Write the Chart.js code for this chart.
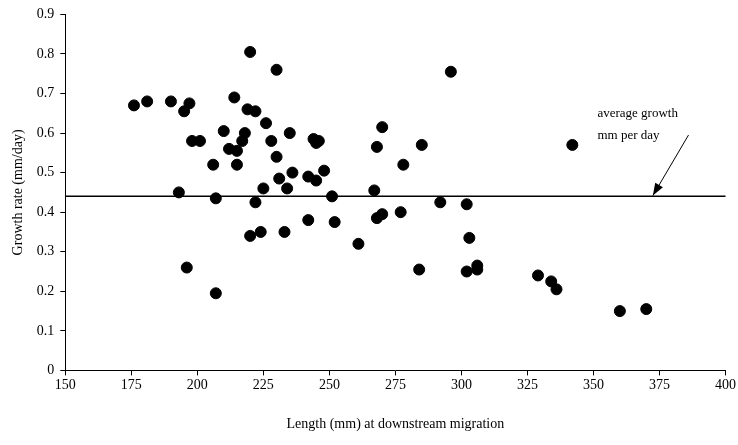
<!DOCTYPE html>
<html><head>
<script src="https://cdn.jsdelivr.net/npm/chart.js@4/dist/chart.umd.min.js"></script>
<style>body{margin:0;background:#fff}#w{width:738px;height:445px}</style>
</head><body><div id="w"><canvas id="c"></canvas></div>
<script>
const lengths = [176,181,190,193,195,196,197,198,201,206,207,207,210,212,214,215,215,217,218,219,220,220,222,222,224,225,226,228,230,230,231,233,234,235,236,242,242,244,245,245,246,248,251,252,261,267,268,268,270,270,277,278,284,285,292,296,302,302,303,306,306,329,334,336,342,360,370];
const rates = [0.67,0.68,0.68,0.45,0.655,0.26,0.675,0.58,0.58,0.52,0.435,0.195,0.605,0.56,0.69,0.555,0.52,0.58,0.6,0.66,0.34,0.805,0.655,0.425,0.35,0.46,0.625,0.58,0.54,0.76,0.485,0.35,0.46,0.6,0.5,0.49,0.38,0.585,0.48,0.575,0.58,0.505,0.44,0.375,0.32,0.455,0.385,0.565,0.395,0.615,0.4,0.52,0.255,0.57,0.425,0.755,0.25,0.42,0.335,0.255,0.265,0.24,0.225,0.205,0.57,0.15,0.155];
const averageRate = 0.44;
const xTicks = [150,175,200,225,250,275,300,325,350,375,400];

const points = lengths.map((x, i) => ({ x, y: rates[i] }));

const annotate = {
  id: 'annotate',
  afterDatasetsDraw(chart) {
    const { ctx, scales: { x, y }, chartArea } = chart;
    ctx.save();
    // average line
    ctx.strokeStyle = '#000'; ctx.lineWidth = 1.5;
    ctx.beginPath();
    ctx.moveTo(chartArea.left, y.getPixelForValue(averageRate));
    ctx.lineTo(chartArea.right, y.getPixelForValue(averageRate));
    ctx.stroke();
    // label + arrow
    ctx.fillStyle = '#000';
    ctx.font = '13px "Liberation Serif"';
    ctx.fillText('average growth', x.getPixelForValue(351.5), y.getPixelForValue(0.64));
    ctx.fillText('mm per day', x.getPixelForValue(351.5), y.getPixelForValue(0.585));
    const x0 = x.getPixelForValue(386), y0 = y.getPixelForValue(0.595);
    const x1 = x.getPixelForValue(372.5), y1 = y.getPixelForValue(0.442);
    ctx.lineWidth = 1;
    ctx.beginPath(); ctx.moveTo(x0, y0); ctx.lineTo(x1, y1); ctx.stroke();
    const a = Math.atan2(y1 - y0, x1 - x0);
    ctx.beginPath();
    ctx.moveTo(x1, y1);
    ctx.lineTo(x1 - 13 * Math.cos(a - 0.35), y1 - 13 * Math.sin(a - 0.35));
    ctx.lineTo(x1 - 13 * Math.cos(a + 0.35), y1 - 13 * Math.sin(a + 0.35));
    ctx.closePath(); ctx.fill();
    ctx.restore();
  }
};

Chart.defaults.font.family = '"Liberation Serif", serif';
Chart.defaults.color = '#000';

new Chart(document.getElementById('c'), {
  type: 'scatter',
  data: { datasets: [{ data: points, backgroundColor: '#000', borderColor: '#000', pointRadius: 5.5, pointHoverRadius: 5.5 }] },
  options: {
    responsive: true, maintainAspectRatio: false, animation: false,
    layout: { padding: { top: 10, right: 12, left: 6, bottom: 8 } },
    plugins: { legend: { display: false }, tooltip: { enabled: false } },
    scales: {
      x: {
        type: 'linear', min: 150, max: 400,
        afterBuildTicks: s => { s.ticks = xTicks.map(v => ({ value: v })); },
        grid: { display: true, drawOnChartArea: false, tickLength: 5, tickColor: '#000' },
        border: { color: '#000', width: 1 },
        ticks: { font: { size: 14 }, padding: 2, maxRotation: 0 },
        title: { display: true, text: 'Length (mm) at downstream migration', font: { size: 14 }, padding: { top: 20 } }
      },
      y: {
        min: 0, max: 0.9,
        grid: { display: true, drawOnChartArea: false, tickLength: 5, tickColor: '#000' },
        border: { color: '#000', width: 1 },
        ticks: { stepSize: 0.1, font: { size: 14 }, padding: 6, callback: v => Number(v.toFixed(1)) },
        title: { display: true, text: 'Growth rate (mm/day)', font: { size: 14 } }
      }
    }
  },
  plugins: [annotate]
});
</script></body></html>
